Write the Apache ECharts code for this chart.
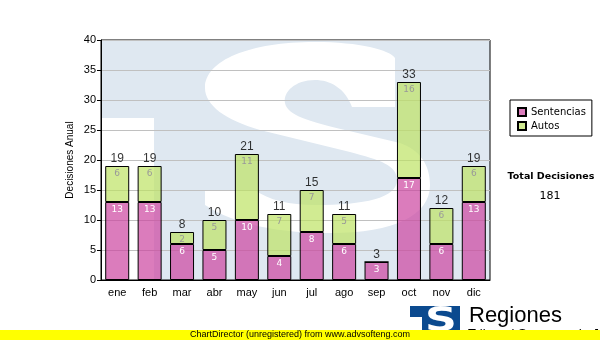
<!DOCTYPE html>
<html>
<head>
<meta charset="utf-8">
<script src="https://cdn.jsdelivr.net/npm/echarts@6/dist/echarts.min.js"></script>
<style>
  html, body { margin: 0; padding: 0; background: #fff; }
  #chart { width: 600px; height: 340px; }
</style>
</head>
<body>
<div id="chart"></div>
<script>
// Monthly decisions, split by type
var months = ['ene', 'feb', 'mar', 'abr', 'may', 'jun', 'jul', 'ago', 'sep', 'oct', 'nov', 'dic'];
var sentencias = [13, 13, 6, 5, 10, 4, 8, 6, 3, 17, 6, 13];
var autos = [6, 6, 2, 5, 11, 7, 7, 5, 0, 16, 6, 6];
var totals = [19, 19, 8, 10, 21, 11, 15, 11, 3, 33, 12, 19];
var totalDecisiones = 181;
var yTicks = { min: 0, max: 40, interval: 5 };

var axisFont = '"Liberation Sans", Arial, sans-serif';
var uiFont = '"DejaVu Sans", Verdana, sans-serif';

// Outline of the "S" of the court logo, used as a faint backdrop
var logoS =
  'M395,107 L352,107 C345,88 330,80 315,80 C295,80 283,92 285,103 ' +
  'C287,115 310,122 345,130 L400,143 C420,150 430,165 430,185 ' +
  'C430,215 395,233 330,233 C280,233 235,225 205,205 L205,190 L255,190 ' +
  'C268,200 290,205 315,205 C365,205 397,198 397,180 C397,165 380,160 350,152 ' +
  'L260,130 C225,120 205,105 205,88 C205,60 250,42 315,42 C360,42 390,50 395,58 Z';
echarts.graphic.registerShape('logoS', echarts.graphic.extendPath(logoS, {}));

var chart = echarts.init(document.getElementById('chart'), null, { renderer: 'canvas' });

var option = {
  animation: false,
  backgroundColor: '#ffffff',
  grid: {
    left: 101, right: 110, top: 40, bottom: 60,
    show: true, borderColor: '#000', borderWidth: 1,
    backgroundColor: 'transparent'
  },
  legend: {
    data: ['Sentencias', 'Autos'],
    orient: 'vertical',
    left: 510, top: 100,
    padding: [7, 6, 5, 7],
    borderColor: '#000', borderWidth: 1,
    itemWidth: 8, itemHeight: 8, itemGap: 4,
    icon: 'rect',
    textStyle: { fontFamily: uiFont, fontSize: 10, color: '#000' }
  },
  xAxis: {
    type: 'category',
    data: months,
    axisLine: { lineStyle: { color: '#000', width: 1 } },
    axisTick: { alignWithLabel: true, length: 4, lineStyle: { color: '#000' } },
    axisLabel: { fontFamily: axisFont, fontSize: 11, color: '#000', margin: 7 },
    splitLine: { show: false }
  },
  yAxis: {
    type: 'value',
    min: yTicks.min, max: yTicks.max, interval: yTicks.interval,
    name: 'Decisiones Anual',
    nameLocation: 'middle',
    nameRotate: 90,
    nameGap: 26,
    nameMoveOverlap: false,
    nameTextStyle: { fontFamily: axisFont, fontSize: 10, color: '#000' },
    axisLine: { show: true, lineStyle: { color: '#000', width: 1 } },
    axisTick: { show: true, length: 4, lineStyle: { color: '#000' } },
    axisLabel: { fontFamily: axisFont, fontSize: 11, color: '#000', margin: 5 },
    splitLine: { show: true, lineStyle: { color: '#c0c0c0', width: 1 } }
  },
  series: [
    {
      name: 'Sentencias',
      type: 'bar',
      stack: 'total',
      barWidth: 24,
      data: sentencias,
      itemStyle: { color: 'rgba(204,68,160,0.7)', borderColor: '#000', borderWidth: 1 },
      label: {
        show: true, position: 'insideTop', distance: 3,
        fontFamily: uiFont, fontSize: 9, color: '#ffffff'
      },
      z: 3
    },
    {
      name: 'Autos',
      type: 'bar',
      stack: 'total',
      barWidth: 24,
      data: autos,
      itemStyle: { color: 'rgba(190,226,100,0.7)', borderColor: '#000', borderWidth: 1 },
      label: {
        show: true, position: 'insideTop', distance: 3,
        fontFamily: uiFont, fontSize: 9, color: '#999999',
        formatter: function (p) { return p.value ? String(p.value) : ''; }
      },
      z: 3
    },
    {
      name: 'Total',
      type: 'scatter',
      data: totals,
      symbolSize: 1,
      itemStyle: { color: 'transparent' },
      label: {
        show: true, position: 'top', distance: 1,
        fontFamily: axisFont, fontSize: 12, color: '#000'
      },
      z: 4
    }
  ],
  graphic: [
    // watermark behind the plot
    { type: 'rect', z: -10, shape: { x: 101, y: 40, width: 389, height: 240 }, style: { fill: '#dfe8f1' } },
    { type: 'rect', z: -9, shape: { x: 101, y: 118, width: 53, height: 162 }, style: { fill: '#ffffff' } },
    { type: 'logoS', z: -9, style: { fill: '#ffffff' } },
    // total block on the right
    {
      type: 'text', x: 551, y: 177,
      style: { text: 'Total Decisiones', align: 'center', verticalAlign: 'middle',
        font: 'bold 9.5px ' + uiFont, fill: '#000' }
    },
    {
      type: 'text', x: 550, y: 196,
      style: { text: String(totalDecisiones), align: 'center', verticalAlign: 'middle',
        font: '11px ' + uiFont, fill: '#000' }
    },
    // brand block at the bottom
    { type: 'rect', shape: { x: 410, y: 306, width: 50, height: 34 }, style: { fill: '#0b4a8f' } },
    { type: 'rect', shape: { x: 410, y: 317, width: 12, height: 23 }, style: { fill: '#ffffff' } },
    {
      type: 'text', x: 441, y: 322, scaleX: 1.3,
      style: { text: 'S', x: 0, y: 0, align: 'center', verticalAlign: 'middle',
        font: 'bold 34px "DejaVu Sans", sans-serif', fill: '#ffffff' }
    },
    {
      type: 'text', x: 469, y: 316,
      style: { text: 'Regiones', align: 'left', verticalAlign: 'middle',
        font: '22px "Liberation Sans", Arial, sans-serif', fill: '#000' }
    },
    {
      type: 'text', x: 468, y: 334,
      style: { text: 'Tribunal Supremo de Justicia', align: 'left', verticalAlign: 'middle',
        font: '13px "Liberation Sans", Arial, sans-serif', fill: '#000' }
    },
    { type: 'rect', z: 50, shape: { x: 0, y: 330, width: 600, height: 10 }, style: { fill: '#ffff00' } },
    {
      type: 'text', z: 51, x: 190, y: 335,
      style: { text: 'ChartDirector (unregistered) from www.advsofteng.com', align: 'left', verticalAlign: 'middle',
        font: '9px "Liberation Sans", Arial, sans-serif', fill: '#000' }
    }
  ]
};

chart.setOption(option);
</script>
</body>
</html>
